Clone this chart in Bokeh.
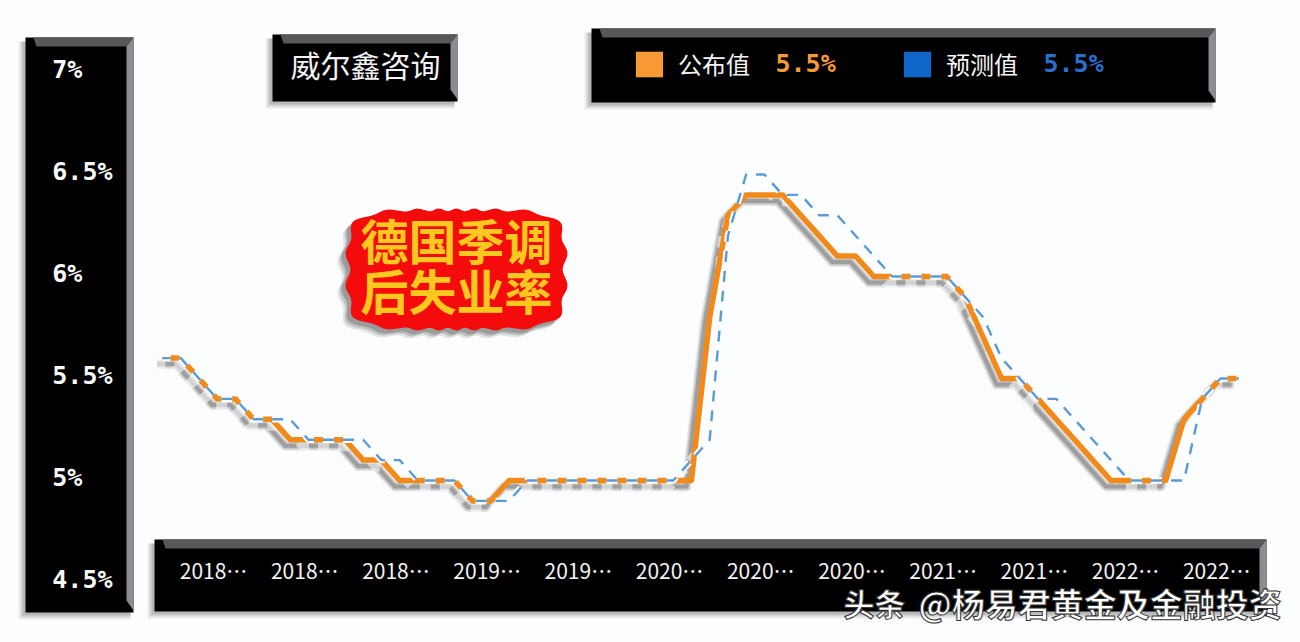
import numpy as np
from bokeh.plotting import figure
from bokeh.embed import file_html
from bokeh.resources import INLINE
from bokeh.models import (LinearAxis, FixedTicker, Range1d, BoxAnnotation, PolyAnnotation,
                          Label, Legend, LegendItem)

# ---- data ----
published = [5.6, 5.6, 5.5, 5.4, 5.4, 5.3, 5.3, 5.2, 5.2, 5.2,
             5.2, 5.1, 5.1, 5.0, 5.0, 5.0, 5.0, 4.9, 4.9, 5.0,
             5.0, 5.0, 5.0, 5.0, 5.0, 5.0, 5.0, 5.0, 5.0, 5.0,
             5.8, 6.3, 6.4, 6.4, 6.4, 6.3, 6.2, 6.1, 6.1, 6.0,
             6.0, 6.0, 6.0, 6.0, 5.9, 5.7, 5.5, 5.5, 5.4, 5.3,
             5.2, 5.1, 5.0, 5.0, 5.0, 5.0, 5.3, 5.4, 5.5, 5.5]
forecast = [5.6, 5.6, 5.5, 5.4, 5.4, 5.3, 5.3, 5.3, 5.2, 5.2,
            5.2, 5.2, 5.1, 5.1, 5.0, 5.0, 5.0, 4.9, 4.9, 4.9,
            5.0, 5.0, 5.0, 5.0, 5.0, 5.0, 5.0, 5.0, 5.0, 5.1,
            5.2, 6.2, 6.5, 6.5, 6.4, 6.4, 6.3, 6.3, 6.2, 6.1,
            6.0, 6.0, 6.0, 6.0, 5.9, 5.8, 5.6, 5.5, 5.4, 5.4,
            5.3, 5.2, 5.1, 5.0, 5.0, 5.0, 5.0, 5.4, 5.5, 5.5]
x_tick_positions = [2.8, 7.8, 12.8, 17.8, 22.8, 27.8, 32.8, 37.8, 42.8, 47.8, 52.8, 57.8]
x_tick_labels = ["2018…", "2018…", "2018…", "2019…", "2019…", "2020…",
                 "2020…", "2020…", "2021…", "2021…", "2022…", "2022…"]
y_ticks = [4.5, 5, 5.5, 6, 6.5, 7]
y_tick_labels = ["4.5%", "5%", "5.5%", "6%", "6.5%", "7%"]
series_names = ["公布值", "预测值"]
series_colors = ["#f79a35", "#0f66c8"]
latest_values = ["5.5%", "5.5%"]
brand = "威尔鑫咨询"
title_lines = ["德国季调", "后失业率"]

# ---- layout (picture pixels) ----
W, H = 1300, 642
PX_X = 18.24          # px per data step
PX_Y = 204.0          # px per 1 percentage point
X0_PAGE, Y55_PAGE, Y55_LABEL = 162, 378, 375


def xr(shift=0.0):
    return Range1d((0 - X0_PAGE - shift) / PX_X, (W - X0_PAGE - shift) / PX_X)


def yr(page_y, shift=0.0):
    return Range1d(5.5 - (H - page_y - shift) / PX_Y, 5.5 + (page_y + shift) / PX_Y)


p = figure(width=W, height=H, output_backend="svg", toolbar_location=None,
           x_range=xr(), y_range=yr(Y55_PAGE), x_axis_type=None, y_axis_type=None,
           min_border=0,
           background_fill_color="#fcfdfe", border_fill_color="#fcfdfe")
p.outline_line_color = None
p.grid.visible = False

p.extra_y_ranges = {"labels": yr(Y55_LABEL), "shadow_y": yr(Y55_PAGE, 6)}
p.extra_x_ranges = {"shadow_x": xr(-5)}


def box(l, t, r, b, color, alpha=1.0, level="underlay"):
    p.add_layout(BoxAnnotation(left=l, right=r, top=t, bottom=b,
                               left_units="canvas", right_units="canvas",
                               top_units="canvas", bottom_units="canvas",
                               fill_color=color, fill_alpha=alpha, line_color=None,
                               level=level, editable=False))


def poly(xs, ys, color, alpha=1.0, level="underlay"):
    p.add_layout(PolyAnnotation(xs=list(xs), ys=list(ys), xs_units="canvas", ys_units="canvas",
                                fill_color=color, fill_alpha=alpha, line_color=None, level=level))


def panel(l, t, r, b):
    for grow, alpha in [(7, 0.10), (5, 0.16), (3, 0.22)]:
        box(l - grow, t + 4, r - 3, b + grow, "#555555", alpha)
    box(l, t, r, b, "#000000")
    poly([l + 8, r, r - 7, l + 11], [t, t, t + 9, t + 9], "#585858")
    poly([r, r, r - 7, r - 7], [t, b - 2, b - 12, t + 9], "#8c8c92")


panel(25, 37, 133, 612)
panel(272, 34, 457, 101)
panel(591, 28, 1215, 102)
panel(154, 539, 1266, 611)


# red badge: scalloped rounded shape
def badge(dx=0, dy=0):
    l, t, r, b = 345, 208, 567, 330
    n = 260
    a = np.linspace(0, 2 * np.pi, n, endpoint=False)
    cxm, cym = (l + r) / 2, (t + b) / 2
    hw, hh = (r - l) / 2, (b - t) / 2
    c, s = np.cos(a), np.sin(a)
    e = 5.0
    rr = (np.abs(c / hw) ** e + np.abs(s / hh) ** e) ** (-1 / e)
    rr = rr * (1 - 0.022 * (1 + np.cos(a * 22)))
    return list(cxm + dx + rr * c), list(cym + dy + rr * s)


for grow, alpha in [(8, 0.15), (6, 0.25), (4, 0.35)]:
    xs, ys = badge(-grow, grow)
    poly(xs, ys, "#555555", alpha)
xs, ys = badge()
poly(xs, ys, "#f40c0c")


def label(text, x, y, size, color, font, style="normal", align="left", level="annotation", **kw):
    p.add_layout(Label(x=x, y=y, x_units="canvas", y_units="canvas", text=text,
                       text_font_size=f"{size}px", text_color=color, text_font=font,
                       text_font_style=style, text_align=align, text_baseline="middle",
                       level=level, **kw))


CJK = "Noto Sans CJK SC"
MONO = "DejaVu Sans Mono"
label(brand, 290, 63, 30, "#f4f4f4", CJK)
label(title_lines[0], 456, 238, 48, "#ffc81e", CJK, "bold", "center")
label(title_lines[1], 456, 288, 48, "#ffc81e", CJK, "bold", "center")
label(latest_values[0], 775, 63, 25, series_colors[0], MONO, "bold")
label(latest_values[1], 1043, 63, 25, "#2a6fd0", MONO, "bold")

# ---- lines ----
x = list(range(len(published)))
DASH = "11 9"
p.line(x, published, x_range_name="shadow_x", y_range_name="shadow_y",
       line_color="#555555", line_alpha=0.14, line_width=10, line_join="round")
p.line(x, published, x_range_name="shadow_x", y_range_name="shadow_y",
       line_color="#555555", line_alpha=0.22, line_width=7, line_join="round")
p.line(x, published, x_range_name="shadow_x", y_range_name="shadow_y",
       line_color="#444444", line_alpha=0.30, line_width=4, line_join="round")
p.line(x, forecast, x_range_name="shadow_x", y_range_name="shadow_y",
       line_color="#fcfdfe", line_alpha=0.55, line_width=11, line_dash=DASH, line_dash_offset=3)
p.line(x, published, line_color="#f28a1a", line_width=5.5, line_join="round")
p.line(x, forecast, line_color="#fcfdfe", line_width=6.5, line_dash=DASH, line_dash_offset=3)
p.line(x, forecast, line_color="#5b9bd5", line_width=2.4, line_dash=DASH, line_dash_offset=3)

# ---- axes ----
yaxis = LinearAxis(y_range_name="labels", ticker=FixedTicker(ticks=y_ticks))
longest = max(len(t) for t in y_tick_labels)
yaxis.major_label_overrides = {t: s + "\u00a0" * (longest - len(s)) for t, s in zip(y_ticks, y_tick_labels)}
yaxis.major_label_standoff = -118
yaxis.major_label_text_font = MONO
yaxis.major_label_text_font_style = "bold"
yaxis.major_label_text_font_size = "25px"
yaxis.major_label_text_color = "#f8f8f8"
yaxis.axis_line_color = None
yaxis.major_tick_line_color = None
yaxis.minor_tick_line_color = None
p.add_layout(yaxis, "left")

xaxis = LinearAxis(ticker=FixedTicker(ticks=x_tick_positions))
xaxis.major_label_overrides = dict(zip(x_tick_positions, x_tick_labels))
xaxis.major_label_standoff = -94
xaxis.major_label_text_font = CJK
xaxis.major_label_text_font_size = "21px"
xaxis.major_label_text_color = "#f4f4f4"
xaxis.axis_line_color = None
xaxis.major_tick_line_color = None
xaxis.minor_tick_line_color = None
p.add_layout(xaxis, "below")

# ---- legend ----
nan = float("nan")
proxies = [p.quad(left=[nan], right=[nan], top=[nan], bottom=[nan], fill_color=c, line_color=None)
           for c in series_colors]
legend = Legend(items=[LegendItem(label=n, renderers=[r]) for n, r in zip(series_names, proxies)],
                orientation="horizontal", location=(632, H - 81),
                background_fill_alpha=0, border_line_color=None, margin=0, padding=0,
                glyph_width=34, glyph_height=32, label_standoff=12, spacing=150,
                label_text_color="#f4f4f4", label_text_font=CJK, label_text_font_size="24px",
                label_height=32, click_policy="none")
p.add_layout(legend, "center")

# ---- watermark ----
label("头条", 843, 602, 31, "#ffffff", CJK, "bold", level="overlay",
      text_outline_color="#333333")
label("@杨易君黄金及金融投资", 918, 602, 33, "#ffffff", CJK, "bold", level="overlay",
      text_outline_color="#333333")

open("out.html", "w").write(file_html(p, INLINE))
